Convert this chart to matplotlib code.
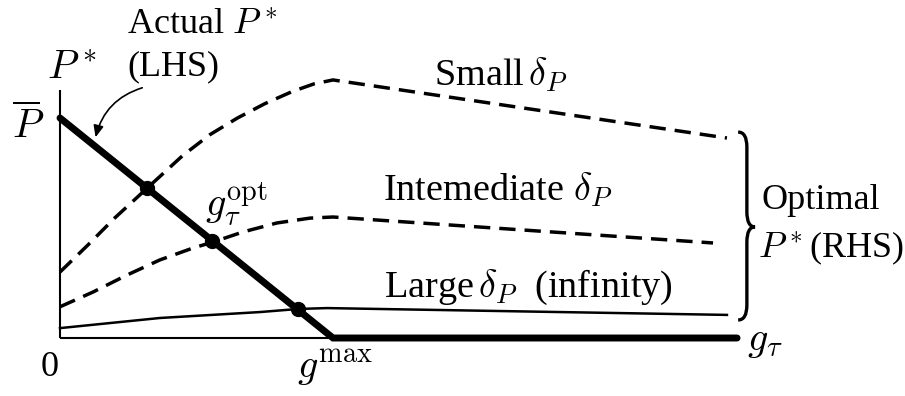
import matplotlib
matplotlib.use("Agg")
import matplotlib.pyplot as plt
import numpy as np
from matplotlib.path import Path
from matplotlib.patches import PathPatch, FancyArrowPatch

plt.rcParams['font.family'] = ['Liberation Serif', 'DejaVu Serif']
plt.rcParams['mathtext.fontset'] = 'cm'

# g_tau (in units of g_max) and P* (in units of P bar)
lhs_g = [0, 1.0, 2.48]
lhs_P = [1.0, 0.0, 0.0]

small_g = [0, 0.1, 0.2, 0.32, 0.45, 0.55, 0.65, 0.75, 0.85, 0.93, 1.0, 2.443]
small_P = [0.30, 0.42, 0.545, 0.682, 0.83, 0.925, 1.0, 1.065, 1.12, 1.155, 1.173, 0.909]

mid_g = [0, 0.121, 0.245, 0.366, 0.487, 0.56, 0.67, 0.795, 0.916, 1.0, 2.392]
mid_P = [0.142, 0.209, 0.286, 0.355, 0.409, 0.436, 0.482, 0.523, 0.545, 0.55, 0.432]

large_g = [0, 0.366, 0.733, 0.872, 0.978, 2.443]
large_P = [0.045, 0.091, 0.118, 0.132, 0.136, 0.105]

opt_g = [0.319, 0.557, 0.870]
opt_P = [0.681, 0.443, 0.130]

fig = plt.figure(figsize=(9.05, 3.96), dpi=100)
ax = fig.add_axes([0, 0, 1, 1])
ax.set_xlim(-0.2198, 3.0952)
ax.set_ylim(-0.2636, 1.5364)
ax.axis('off')

# axes
ax.plot([0, 0], [0, 1.127], c='k', lw=1.5, solid_capstyle='butt')
ax.plot([0, 2.48], [0, 0], c='k', lw=1.5, solid_capstyle='butt')

ax.plot(small_g, small_P, c='k', lw=2.5, dashes=(4.7, 2.6))
ax.plot(mid_g, mid_P, c='k', lw=2.5, dashes=(4.7, 2.6))
ax.plot(large_g, large_P, c='k', lw=1.8)
ax.plot(lhs_g, lhs_P, c='k', lw=5, solid_capstyle='round', solid_joinstyle='miter')
ax.plot(opt_g, opt_P, 'o', c='k', ms=10)

# curved arrow pointing at the LHS line
arr = FancyArrowPatch((0.311, 1.141), (0.128, 0.90), connectionstyle='arc3,rad=0.3',
                      arrowstyle='-|>,head_length=7,head_width=3', color='k', lw=1.2)
ax.add_patch(arr)

# brace for the RHS curves
x0, xm, x1 = 2.484, 2.516, 2.546
ytop, ybot = small_P[-1] + 0.027, large_P[-1] - 0.023
ymid = 0.505
r = 0.068
verts = [(x0, ytop), (xm, ytop), (xm, ytop - r),
         (xm, ymid + r), (xm, ymid), (x1, ymid),
         (xm, ymid), (xm, ymid - r),
         (xm, ybot + r), (xm, ybot), (x0, ybot)]
codes = [Path.MOVETO, Path.CURVE3, Path.CURVE3,
         Path.LINETO, Path.CURVE3, Path.CURVE3,
         Path.CURVE3, Path.CURVE3,
         Path.LINETO, Path.CURVE3, Path.CURVE3]
ax.add_patch(PathPatch(Path(verts, codes), fc='none', ec='k', lw=2.4))

fs = 26
fd = 27.5
fm = 29
ax.text(0.245, 1.423, 'Actual $P^*$', fontsize=fs, ha='left', va='center')
ax.text(0.245, 1.232, '(LHS)', fontsize=fs, ha='left', va='center')
ax.text(-0.048, 1.218, '$P^*$', fontsize=fm, ha='left', va='center')
ax.text(-0.117, 0.959, r'$\overline{P}$', fontsize=fm, ha='center', va='center')
ax.text(-0.037, -0.136, '0', fontsize=fs, ha='center', va='center')
ax.text(1.007, -0.136, r'$g^{\max}$', fontsize=fm, ha='center', va='center')
ax.text(0.648, 0.605, r'$g_\tau^{\rm opt}$', fontsize=fm, ha='center', va='center')
ax.text(2.516, -0.018, r'$g_\tau$', fontsize=fm, ha='left', va='center')
ax.text(1.615, 1.195, r'Small$\,\delta_P$', fontsize=fd, ha='center', va='center')
ax.text(1.604, 0.673, r'Intemediate $\delta_P$', fontsize=fd, ha='center', va='center')
ax.text(1.714, 0.232, r'Large$\,\delta_P$  (infinity)', fontsize=fd, ha='center', va='center')
ax.text(2.571, 0.627, 'Optimal', fontsize=fs, ha='left', va='center')
ax.text(2.557, 0.409, '$P^*$(RHS)', fontsize=fs, ha='left', va='center')

fig.savefig('out.png', dpi=100)
